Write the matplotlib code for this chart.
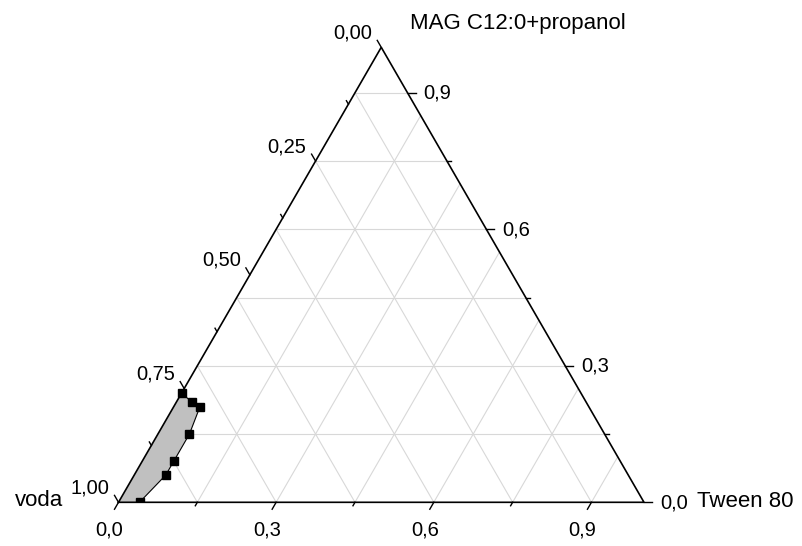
import numpy as np
import matplotlib
matplotlib.use("Agg")
from matplotlib import pyplot as plt
from matplotlib.transforms import offset_copy

plt.rcParams['font.family'] = ['Liberation Sans', 'DejaVu Sans']

# composition points (fractions)
tween = [0.00, 0.03, 0.05, 0.06, 0.06, 0.06, 0.04]
mag = [0.24, 0.22, 0.21, 0.15, 0.09, 0.06, 0.00]
voda = [1 - t - m for t, m in zip(tween, mag)]

bottom_ticks = [0.0, 0.3, 0.6, 0.9]
bottom_labels = ['0,0', '0,3', '0,6', '0,9']
right_ticks = [0.0, 0.3, 0.6, 0.9]
right_labels = ['0,0', '0,3', '0,6', '0,9']
left_ticks = [0.0, 0.25, 0.5, 0.75, 1.0]
left_labels = ['0,00', '0,25', '0,50', '0,75', '1,00']

H = np.sqrt(3) / 2
PX = 1 / 525.5  # one pixel in data units


def tern(t, m):
    t = np.asarray(t, dtype=float)
    m = np.asarray(m, dtype=float)
    return t + m / 2, m * H


fig = plt.figure(figsize=(8.03, 5.46), dpi=100)
ax = fig.add_axes([118.5 / 803, (546 - 502.3) / 546, 525.5 / 803, 455 / 546])
ax.set_xlim(0, 1)
ax.set_ylim(0, H)
ax.axis('off')

gc = '#d8d8d8'
step = 0.15
for k in range(1, 7):
    v = k * step
    # constant MAG
    x, y = tern([0, 1 - v], [v, v])
    ax.plot(x, y, color=gc, lw=0.8, zorder=1)
    # constant Tween
    x, y = tern([v, v], [0, 1 - v])
    ax.plot(x, y, color=gc, lw=0.8, zorder=1)
    # constant voda
    x, y = tern([v, 0], [0, v])
    ax.plot(x, y, color=gc, lw=0.8, zorder=1)

# shaded region
px, py = tern([0] + tween, [0] + mag)
ax.fill(px, py, color='#c0c0c0', zorder=2, lw=0)
x, y = tern(tween, mag)
ax.plot(x, y, color='black', lw=0.8, zorder=3)
ax.plot(x, y, ls='none', marker='s', ms=5.6, color='black', zorder=4)

# triangle frame
x, y = tern([0, 1, 0, 0], [0, 0, 1, 0])
ax.plot(x, y, color='black', lw=1.2, zorder=5, solid_joinstyle='miter', clip_on=False)

# ticks
for k in range(0, 7):
    v = k * step
    ln = 8 if k % 2 == 0 else 4
    # bottom: along constant tween line, outward
    x0, y0 = tern(v, 0)
    ax.plot([x0, x0 - 0.5 * ln * PX], [y0, y0 - H * ln * PX], color='black', lw=1, clip_on=False)
    # right: horizontal outward
    x0, y0 = tern(1 - v, v)
    ax.plot([x0, x0 + ln * PX], [y0, y0], color='black', lw=1, clip_on=False)
for k in range(0, 9):
    v = k * 0.125
    ln = 8 if k % 2 == 0 else 4
    x0, y0 = tern(0, 1 - v)
    ax.plot([x0, x0 - 0.5 * ln * PX], [y0, y0 + H * ln * PX], color='black', lw=1, clip_on=False)

fs = 14.5
for v, lab in zip(bottom_ticks, bottom_labels):
    x0, y0 = tern(v, 0)
    tr = offset_copy(ax.transData, fig, x=-9, y=-33, units='dots')
    ax.text(x0, y0, lab, transform=tr, ha='center', va='baseline', fontsize=fs)
for v, lab in zip(right_ticks, right_labels):
    x0, y0 = tern(1 - v, v)
    tr = offset_copy(ax.transData, fig, x=16, y=-6, units='dots')
    ax.text(x0, y0, lab, transform=tr, ha='left', va='baseline', fontsize=fs)
for v, lab in zip(left_ticks, left_labels):
    x0, y0 = tern(0, 1 - v)
    tr = offset_copy(ax.transData, fig, x=-9, y=9, units='dots')
    ax.text(x0, y0, lab, transform=tr, ha='right', va='baseline', fontsize=fs)

# axis titles
x0, y0 = tern(0, 0)
ax.text(x0, y0, 'voda', transform=offset_copy(ax.transData, fig, x=-55, y=-4, units='dots'),
        ha='right', va='baseline', fontsize=16)
x0, y0 = tern(1, 0)
ax.text(x0, y0, 'Tween 80', transform=offset_copy(ax.transData, fig, x=53, y=-5, units='dots'),
        ha='left', va='baseline', fontsize=16)
x0, y0 = tern(0, 1)
ax.text(x0, y0, 'MAG C12:0+propanol', transform=offset_copy(ax.transData, fig, x=29, y=18, units='dots'),
        ha='left', va='baseline', fontsize=16)

fig.savefig('out.png', dpi=100)
plt.close()
